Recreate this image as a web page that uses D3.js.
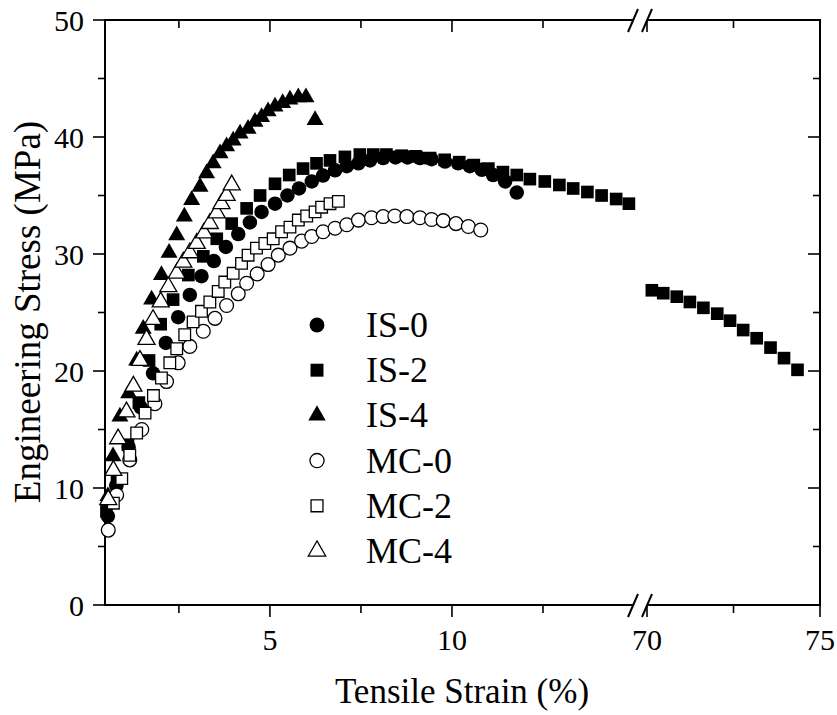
<!DOCTYPE html>
<html>
<head>
<meta charset="utf-8">
<script src="https://cdn.jsdelivr.net/npm/d3@7"></script>
<style>
  body { margin: 0; background: #fff; }
  svg { display: block; font-family: "Liberation Serif", "Times New Roman", serif; }
</style>
</head>
<body>
<svg id="chart" width="837" height="715"></svg>
<script>
// strain (%) / stress (MPa)
var is0_x = [0.55,0.78,1.12,1.45,1.79,2.14,2.48,2.80,3.12,3.46,3.79,4.13,4.45,4.77,5.14,5.48,5.80,6.15,6.46,6.79,7.11,7.43,7.75,8.11,8.45,8.78,9.12,9.44,9.81,10.17,10.49,10.82,11.13,11.46,11.78];
var is0_y = [7.6,10.2,13.5,16.9,19.8,22.4,24.6,26.5,28.1,29.4,30.6,31.7,32.7,33.6,34.3,35.0,35.6,36.2,36.7,37.15,37.5,37.75,38.0,38.2,38.25,38.25,38.2,38.1,37.9,37.75,37.5,37.2,36.75,36.2,35.25];

var is2_x = [0.51,0.80,1.10,1.40,1.68,2.00,2.34,2.76,3.17,3.54,3.95,4.36,4.73,5.14,5.53,5.91,6.28,6.65,7.06,7.47,7.84,8.20,8.62,9.00,9.40,9.80,10.20,10.60,11.00,11.40,11.78,12.14,12.55,12.95,13.33,13.72,14.11,14.51,14.86,
             70.14,70.47,70.86,71.24,71.63,72.03,72.40,72.78,73.17,73.57,73.96,74.35];
var is2_y = [8.0,10.6,13.7,17.3,20.9,24.0,26.1,28.2,29.8,31.3,32.6,33.9,35.0,36.0,36.75,37.3,37.75,38.0,38.3,38.5,38.5,38.5,38.4,38.35,38.2,38.05,37.85,37.6,37.3,37.0,36.75,36.4,36.2,35.9,35.6,35.3,35.0,34.7,34.3,
             26.9,26.65,26.35,25.9,25.4,24.9,24.3,23.5,22.8,22.0,21.1,20.1];

var is4_x = [0.55,0.69,0.88,1.12,1.34,1.52,1.75,2.02,2.23,2.44,2.65,2.85,3.08,3.26,3.44,3.63,3.81,3.99,4.18,4.40,4.59,4.77,4.95,5.14,5.35,5.55,5.78,5.99,6.24];
var is4_y = [9.3,12.7,16.1,18.1,20.9,23.6,26.1,28.2,30.1,31.6,33.2,34.6,35.75,36.9,37.75,38.6,39.2,39.7,40.3,40.7,41.3,41.7,42.2,42.6,42.9,43.2,43.4,43.4,41.45];

var mc0_x = [0.56,0.79,1.15,1.48,1.84,2.16,2.48,2.80,3.17,3.49,3.81,4.13,4.36,4.65,4.95,5.23,5.55,5.87,6.15,6.46,6.79,7.11,7.43,7.79,8.11,8.43,8.76,9.12,9.44,9.76,10.11,10.45,10.79];
var mc0_y = [6.4,9.4,12.4,15.0,17.2,19.1,20.7,22.1,23.4,24.5,25.6,26.6,27.5,28.3,29.1,29.9,30.5,31.1,31.5,31.9,32.2,32.5,32.9,33.1,33.2,33.25,33.2,33.1,32.95,32.85,32.6,32.35,32.05];

var mc2_x = [0.70,0.93,1.15,1.34,1.57,1.80,2.02,2.25,2.44,2.66,2.89,3.12,3.35,3.58,3.76,3.99,4.22,4.40,4.63,4.86,5.09,5.32,5.55,5.78,6.01,6.24,6.42,6.65,6.88];
var mc2_y = [8.7,10.8,12.8,14.7,16.4,17.9,19.4,20.7,21.9,23.1,24.2,25.1,25.9,26.8,27.6,28.35,29.2,29.9,30.5,30.9,31.3,31.9,32.3,32.9,33.25,33.6,34.0,34.3,34.5];

var mc4_x = [0.56,0.70,0.83,1.06,1.25,1.43,1.61,1.79,2.00,2.21,2.44,2.62,2.80,2.99,3.19,3.35,3.54,3.67,3.81,3.95];
var mc4_y = [9.0,11.5,14.2,16.5,18.7,20.9,22.7,24.4,25.9,27.2,28.35,29.3,30.1,30.9,31.8,32.6,33.5,34.3,35.0,35.9];

var names = ["IS-0","IS-2","IS-4","MC-0","MC-2","MC-4"];
var xs = [is0_x, is2_x, is4_x, mc0_x, mc2_x, mc4_x];
var ys = [is0_y, is2_y, is4_y, mc0_y, mc2_y, mc4_y];
var shapes = [d3.symbolCircle, d3.symbolSquare, d3.symbolTriangle, d3.symbolCircle, d3.symbolSquare, d3.symbolTriangle];
var sizes = [165, 160, 125, 150, 135, 125];
var filled = [true, true, true, false, false, false];

var yTicks = [0,10,20,30,40,50];
var xTicksL = [5,10];
var xTicksR = [70,75];

function draw() {
	var svg = d3.select("#chart");
	var x0 = 105, x1 = 820, y0 = 20, y1 = 605;
	var breakL = 634, breakR = 647;

	var xL = d3.scaleLinear().domain([0.47, 15]).range([x0, breakL]);
	var xR = d3.scaleLinear().domain([70, 75]).range([breakR, x1]);
	var y = d3.scaleLinear().domain([0, 50]).range([y1, y0]);
	function xpos(v) { return v >= 60 ? xR(v) : xL(v); }

	// frame, top and bottom lines cut at the break
	var frame = svg.append("g").attr("stroke", "#000").attr("stroke-width", 2).attr("fill", "none");
	frame.append("line").attr("x1", x0).attr("x2", x0).attr("y1", y0 - 1).attr("y2", y1 + 1);
	frame.append("line").attr("x1", x1).attr("x2", x1).attr("y1", y0 - 1).attr("y2", y1 + 1);
	[y0, y1].forEach(function(yy) {
		frame.append("line").attr("x1", x0 - 1).attr("x2", breakL - 1).attr("y1", yy).attr("y2", yy);
		frame.append("line").attr("x1", breakR + 1).attr("x2", x1 + 1).attr("y1", yy).attr("y2", yy);
	});

	// ticks: outward on left/bottom, inward on right/top
	var tk = svg.append("g").attr("stroke", "#000").attr("stroke-width", 1.6);
	d3.range(0, 51, 5).forEach(function(v) {
		var len = (v % 10 === 0) ? 12 : 7;
		tk.append("line").attr("x1", x0 - len).attr("x2", x0).attr("y1", y(v)).attr("y2", y(v));
		if (v > 0 && v < 50)
			tk.append("line").attr("x1", x1 - len).attr("x2", x1).attr("y1", y(v)).attr("y2", y(v));
	});
	[2.5, 5, 7.5, 10, 12.5].forEach(function(v) {
		var len = (v % 5 === 0) ? 12 : 8;
		tk.append("line").attr("x1", xL(v)).attr("x2", xL(v)).attr("y1", y1).attr("y2", y1 + len);
		tk.append("line").attr("x1", xL(v)).attr("x2", xL(v)).attr("y1", y0).attr("y2", y0 + len);
	});
	[70, 72.5, 75].forEach(function(v) {
		var len = (v % 5 === 0) ? 12 : 8;
		tk.append("line").attr("x1", xR(v)).attr("x2", xR(v)).attr("y1", y1).attr("y2", y1 + len);
		if (v < 75) tk.append("line").attr("x1", xR(v)).attr("x2", xR(v)).attr("y1", y0).attr("y2", y0 + len);
	});

	// break marks
	var brk = svg.append("g").attr("stroke", "#000").attr("stroke-width", 2);
	[y0, y1].forEach(function(yy) {
		[breakL - 1, breakR].forEach(function(bx) {
			brk.append("line").attr("x1", bx - 5).attr("y1", yy + 12).attr("x2", bx + 5).attr("y2", yy - 11);
		});
	});

	// tick labels
	var lab = svg.append("g").attr("font-size", 30).attr("fill", "#000");
	yTicks.forEach(function(v) {
		lab.append("text").attr("x", 84).attr("y", y(v)).attr("dy", "0.35em").attr("text-anchor", "end").text(v);
	});
	xTicksL.forEach(function(v) {
		lab.append("text").attr("x", xL(v)).attr("y", 650).attr("text-anchor", "middle").text(v);
	});
	xTicksR.forEach(function(v) {
		lab.append("text").attr("x", xR(v)).attr("y", 650).attr("text-anchor", "middle").text(v);
	});

	// axis titles
	svg.append("text").attr("x", 462).attr("y", 703).attr("text-anchor", "middle")
		.attr("font-size", 35).text("Tensile Strain (%)");
	svg.append("text").attr("transform", "translate(40,312) rotate(-90)").attr("text-anchor", "middle")
		.attr("font-size", 37).text("Engineering Stress (MPa)");

	// data markers
	var sym = d3.symbol();
	names.forEach(function(n, i) {
		var pts = xs[i].map(function(v, j) { return [v, ys[i][j]]; });
		svg.append("g").selectAll("path")
			.data(pts)
			.enter()
			.append("path")
			.attr("d", sym.type(shapes[i]).size(sizes[i])())
			.attr("transform", function(d) { return "translate(" + xpos(d[0]) + "," + y(d[1]) + ")"; })
			.attr("fill", filled[i] ? "#000" : "#fff")
			.attr("stroke", "#000")
			.attr("stroke-width", filled[i] ? 0 : 1.3);
	});

	// legend
	var leg = svg.append("g");
	names.forEach(function(n, i) {
		var cy = 325 + i * 45.2;
		leg.append("path")
			.attr("d", sym.type(shapes[i]).size(sizes[i] * 1.05)())
			.attr("transform", "translate(317," + cy + ")")
			.attr("fill", filled[i] ? "#000" : "#fff")
			.attr("stroke", "#000")
			.attr("stroke-width", filled[i] ? 0 : 1.3);
		leg.append("text").attr("x", 366).attr("y", cy + 12).attr("font-size", 36).text(n);
	});
}
draw();
</script>
</body>
</html>
